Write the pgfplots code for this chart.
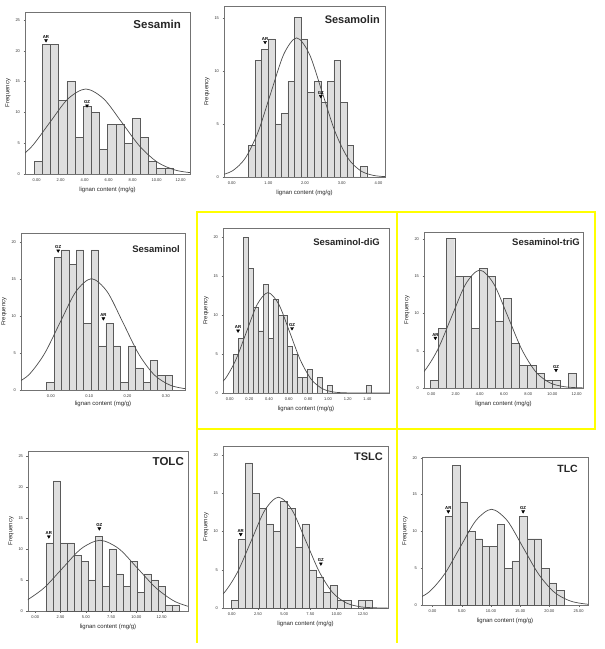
\documentclass[border=0pt]{standalone}
\usepackage{fontspec}
\setmainfont{Liberation Sans}
\usepackage{pgfplots}
\pgfplotsset{compat=1.18}
\definecolor{barfill}{RGB}{222,222,222}
\definecolor{bardraw}{RGB}{90,90,90}
\definecolor{ybox}{RGB}{255,255,0}
\tikzset{ttl/.style={anchor=north east, font=\bfseries\fontsize{#1}{#1}\selectfont, text=black!85, inner sep=0pt}}
\pgfplotsset{
  hist/.style={
    scale only axis, anchor=south west,
    axis line style={draw=black!55, line width=0.4pt},
    tick style={draw=black!60, line width=0.3pt},
    tick align=outside, major tick length=1.5pt,
    xtick pos=bottom, ytick pos=left,
    ticklabel style={font=\fontsize{4}{4}\selectfont, text=black!80},
    /pgf/number format/assume math mode=true,
    ymin=0, clip=true,
    ylabel={Frequency}, xlabel={lignan content (mg/g)},
    label style={font=\fontsize{6}{6}\selectfont, text=black!85},
    xlabel style={yshift=2pt}, ylabel style={yshift=-2pt},
  },
  bars/.style={ybar interval, fill=barfill, draw=bardraw, line width=0.45pt},
  curve/.style={smooth, draw=black!70, line width=0.7pt},
  marks/.style={only marks, mark=triangle*, mark size=1.7pt,
    mark options={rotate=180, fill=black, draw=black},
    point meta=explicit symbolic, nodes near coords,
    nodes near coords style={font=\fontsize{4.3}{4.3}\selectfont\bfseries, anchor=south, yshift=1.2pt, inner sep=0.5pt}},
}
\begin{document}
\begin{tikzpicture}[x=1pt,y=1pt]
\path[use as bounding box] (0,0) rectangle (605,649);
% yellow frames
\draw[ybox, line width=1.8pt] (197,6) -- (197,437) -- (595,437) -- (595,220) -- (197,220);
\draw[ybox, line width=1.8pt] (397,437) -- (397,6);

% 1 Sesamin
\begin{axis}[hist, at={(25pt,475pt)}, width=165pt, height=162pt,
  xmin=-0.97, xmax=12.78, ymax=26.3,
  xtick={0,2,4,6,8,10,12}, xticklabels={0.00,2.00,4.00,6.00,8.00,10.00,12.00},
  ytick={0,5,10,15,20,25}]
\addplot[bars] coordinates {(-0.2,2) (0.48,21) (1.16,21) (1.84,12) (2.52,15) (3.2,6) (3.88,11) (4.56,10) (5.24,4) (5.92,8) (6.6,8) (7.28,5) (7.96,9) (8.64,6) (9.32,2) (10.0,1) (10.68,1) (11.36,1)};
\addplot[curve] coordinates {(-1.9,1.87) (-0.4,4.48) (1.1,8.37) (2.6,12.18) (4.1,13.8) (5.6,12.18) (7.1,8.37) (8.6,4.48) (10.1,1.87) (11.6,0.61) (13.1,0.15)};
\addplot[marks] coordinates {(0.78,21.7) [AR] (4.2,11.1) [GZ]};
\node[ttl=11.5] at (rel axis cs:1,1) [xshift=-9pt, yshift=-8pt] {Sesamin};
\end{axis}

% 2 Sesamolin
\begin{axis}[hist, at={(224pt,472pt)}, width=161pt, height=171pt,
  xmin=-0.21, xmax=4.18, ymax=16.1,
  xtick={0,1,2,3,4}, xticklabels={0.00,1.00,2.00,3.00,4.00},
  ytick={0,5,10,15}]
\addplot[bars] coordinates {(0.46,3) (0.639,11) (0.818,12) (0.997,13) (1.176,5) (1.355,6) (1.534,9) (1.713,15) (1.892,13) (2.071,8) (2.25,9) (2.429,7) (2.608,9) (2.787,11) (2.966,7) (3.145,3) (3.324,0) (3.503,1) (3.682,1)};
\addplot[curve] coordinates {(-0.33,0.145) (0.02,0.575) (0.37,1.77) (0.72,4.25) (1.07,7.95) (1.42,11.56) (1.77,13.1) (2.12,11.56) (2.47,7.95) (2.82,4.25) (3.17,1.77) (3.52,0.575) (3.87,0.145) (4.22,0.029)};
\addplot[marks] coordinates {(0.91,12.7) [AR] (2.43,7.6) [GZ]};
\node[ttl=11] at (rel axis cs:1,1) [xshift=-5pt, yshift=-9pt] {Sesamolin};
\end{axis}

% 3 Sesaminol
\begin{axis}[hist, at={(21pt,259pt)}, width=164pt, height=157pt,
  xmin=-0.078, xmax=0.35, ymax=21.3,
  xtick={0,0.1,0.2,0.3}, xticklabels={0.00,0.10,0.20,0.30},
  ytick={0,5,10,15,20}, xlabel={}]
\addplot[bars] coordinates {(-0.011,1) (0.0083,18) (0.0276,19) (0.0469,17) (0.0662,19) (0.0855,9) (0.1048,19) (0.1241,6) (0.1434,9) (0.1627,6) (0.182,1) (0.2013,6) (0.2206,3) (0.2399,1) (0.2592,4) (0.2785,2) (0.2978,2) (0.3171,2)};
\addplot[curve] coordinates {(-0.099,0.66) (-0.058,2.04) (-0.017,4.90) (0.024,9.16) (0.065,13.33) (0.106,15.1) (0.147,13.33) (0.188,9.16) (0.229,4.90) (0.270,2.04) (0.311,0.66) (0.352,0.17) (0.393,0.03)};
\addplot[marks] coordinates {(0.019,18.9) [GZ] (0.137,9.7) [AR]};
\node[ttl=9.5] at (rel axis cs:1,1) [xshift=-5pt, yshift=-12pt] {Sesaminol};
\end{axis}
\node[font=\fontsize{6}{6}\selectfont, text=black!85] at (103,245) {lignan content (mg/g)};

% 4 Sesaminol-diG
\begin{axis}[hist, at={(223pt,256pt)}, width=166pt, height=165pt,
  xmin=-0.068, xmax=1.62, ymax=21.2,
  xtick={0,0.2,0.4,0.6,0.8,1.0,1.2,1.4}, xticklabels={0.00,0.20,0.40,0.60,0.80,1.00,1.20,1.40},
  ytick={0,5,10,15,20}]
\addplot[bars] coordinates {(0.04,5) (0.09,7) (0.14,20) (0.19,16) (0.24,11) (0.29,8) (0.34,14) (0.39,7) (0.44,12) (0.49,10) (0.54,10) (0.59,6) (0.64,5) (0.69,2) (0.74,2) (0.79,3) (0.84,0) (0.89,2) (0.94,0) (0.99,1) (1.04,0) (1.09,0) (1.14,0) (1.19,0) (1.24,0) (1.29,0) (1.34,0) (1.39,1) (1.44,1)};
\addplot[curve] coordinates {(-0.16,0.57) (-0.05,1.75) (0.06,4.19) (0.17,7.82) (0.28,11.38) (0.39,12.9) (0.50,11.38) (0.61,7.82) (0.72,4.19) (0.83,1.75) (0.94,0.57) (1.05,0.14) (1.16,0.03) (1.27,0.004) (1.49,0) (1.7,0)};
\addplot[marks] coordinates {(0.085,8.0) [AR] (0.634,8.3) [GZ]};
\node[ttl=9.5] at (rel axis cs:1,1) [xshift=-9pt, yshift=-10pt] {Sesaminol-diG};
\end{axis}

% 5 Sesaminol-triG
\begin{axis}[hist, at={(424pt,261pt)}, width=159pt, height=156pt,
  xmin=-0.61, xmax=12.53, ymax=20.9,
  xtick={0,2,4,6,8,10,12}, xticklabels={0.00,2.00,4.00,6.00,8.00,10.00,12.00},
  ytick={0,5,10,15,20}]
\addplot[bars] coordinates {(-0.08,1) (0.59,8) (1.26,20) (1.93,15) (2.6,15) (3.27,8) (3.94,16) (4.61,15) (5.28,9) (5.95,12) (6.62,6) (7.29,3) (7.96,3) (8.63,2) (9.3,1) (9.97,1) (10.64,0) (11.31,2) (11.98,2)};
\addplot[curve] coordinates {(-1.8,0.69) (-0.64,2.14) (0.52,5.13) (1.68,9.58) (2.84,13.94) (4.0,15.8) (5.16,13.94) (6.32,9.58) (7.48,5.13) (8.64,2.14) (9.8,0.69) (10.96,0.18) (12.12,0.035) (13.28,0.005)};
\addplot[marks] coordinates {(0.33,6.7) [AR] (10.3,2.4) [GZ]};
\node[ttl=9.5] at (rel axis cs:1,1) [xshift=-3pt, yshift=-6pt] {Sesaminol-triG};
\end{axis}

% 6 TOLC
\begin{axis}[hist, at={(28pt,38pt)}, width=160pt, height=160pt,
  xmin=-0.72, xmax=15.1, ymax=25.8,
  xtick={0,2.5,5,7.5,10,12.5}, xticklabels={0.00,2.50,5.00,7.50,10.00,12.50},
  ytick={0,5,10,15,20,25}]
\addplot[bars] coordinates {(1.08,11) (1.77,21) (2.46,11) (3.15,11) (3.84,9) (4.53,8) (5.22,5) (5.91,12) (6.6,4) (7.29,10) (7.98,6) (8.67,4) (9.36,8) (10.05,3) (10.74,6) (11.43,5) (12.12,4) (12.81,1) (13.5,1) (14.19,1)};
\addplot[curve] coordinates {(-1.0,1.54) (0.85,3.70) (2.7,6.91) (4.55,10.06) (6.4,11.4) (8.25,10.06) (10.1,6.91) (11.95,3.70) (13.8,1.54) (15.65,0.50)};
\addplot[marks] coordinates {(1.34,12.0) [AR] (6.33,13.3) [GZ]};
\node[ttl=11.5] at (rel axis cs:1,1) [xshift=-4pt, yshift=-6pt] {TOLC};
\end{axis}

% 7 TSLC
\begin{axis}[hist, at={(223pt,41pt)}, width=165pt, height=162pt,
  xmin=-0.83, xmax=14.9, ymax=21.2,
  xtick={0,2.5,5,7.5,10,12.5}, xticklabels={0.00,2.50,5.00,7.50,10.00,12.50},
  ytick={0,5,10,15,20}]
\addplot[bars] coordinates {(-0.06,1) (0.615,9) (1.29,19) (1.965,15) (2.64,13) (3.315,11) (3.99,10) (4.665,14) (5.34,13) (6.015,8) (6.69,11) (7.365,5) (8.04,4) (8.715,2) (9.39,3) (10.065,1) (10.74,1) (11.415,0) (12.09,1) (12.765,1) (13.44,1)};
\addplot[curve] coordinates {(-2.04,0.64) (-0.74,1.96) (0.56,4.71) (1.86,8.79) (3.16,12.8) (4.46,14.5) (5.76,12.8) (7.06,8.79) (8.36,4.71) (9.66,1.96) (10.96,0.64) (12.26,0.16) (13.56,0.03) (14.86,0.005)};
\addplot[marks] coordinates {(0.86,9.65) [AR] (8.5,5.8) [GZ]};
\node[ttl=11] at (rel axis cs:1,1) [xshift=-5pt, yshift=-7pt] {TSLC};
\end{axis}

% 8 TLC
\begin{axis}[hist, at={(422pt,44pt)}, width=166pt, height=148pt,
  xmin=-1.8, xmax=26.6, ymax=20.1,
  xtick={0,5,10,15,20,25}, xticklabels={0.00,5.00,10.00,15.00,20.00,25.00},
  ytick={0,5,10,15,20}]
\addplot[bars] coordinates {(2.16,12) (3.43,19) (4.7,14) (5.97,10) (7.24,9) (8.51,8) (9.78,8) (11.05,11) (12.32,5) (13.59,6) (14.86,12) (16.13,9) (17.4,9) (18.67,5) (19.94,3) (21.21,2) (22.48,2)};
\addplot[curve] coordinates {(-3.275,0.57) (-0.6,1.76) (2.075,4.22) (4.75,7.88) (7.425,11.47) (10.1,13) (12.775,11.47) (15.45,7.88) (18.125,4.22) (20.8,1.76) (23.475,0.57) (26.15,0.14) (28.8,0.03)};
\addplot[marks] coordinates {(2.7,12.7) [AR] (15.5,12.7) [GZ]};
\node[ttl=10.5] at (rel axis cs:1,1) [xshift=-10pt, yshift=-8pt] {TLC};
\end{axis}
\end{tikzpicture}
\end{document}
